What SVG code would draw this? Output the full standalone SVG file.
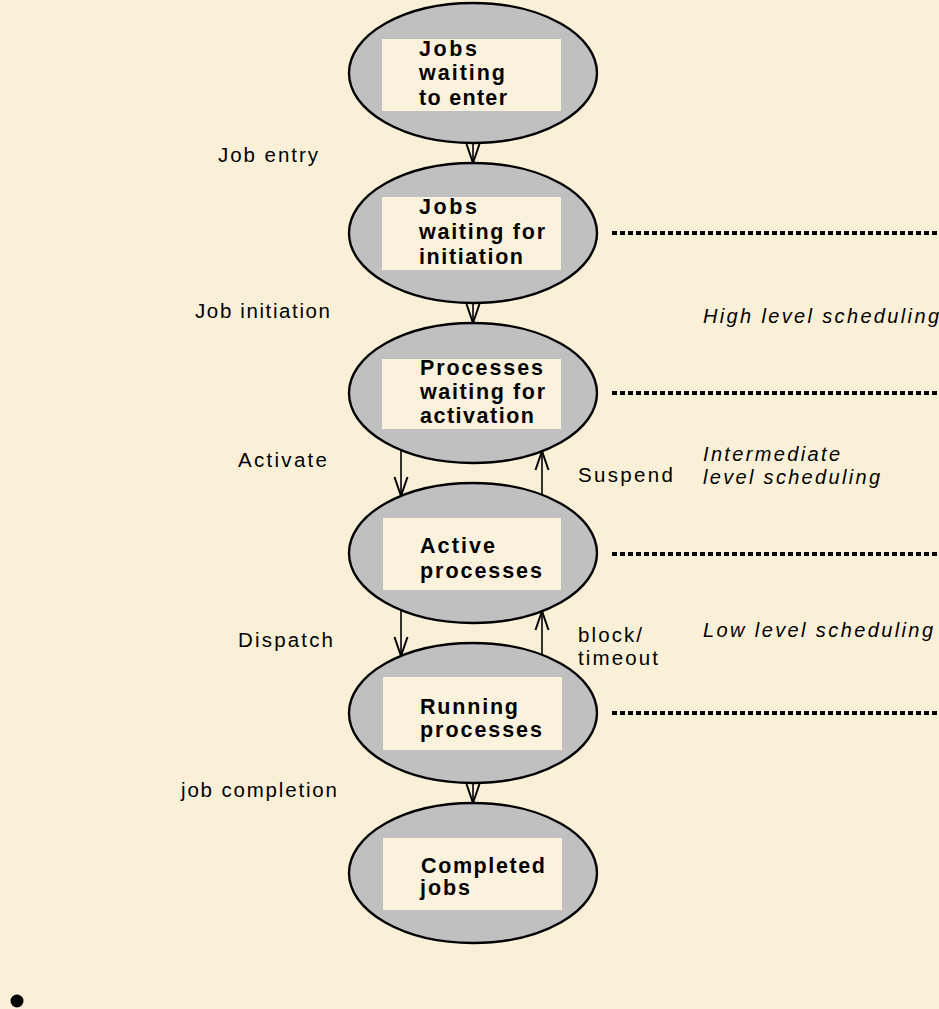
<svg xmlns="http://www.w3.org/2000/svg" width="939" height="1009" viewBox="0 0 939 1009">
<defs>
<style>
.bg{fill:#FAF0D8}
.ell{fill:#C0C0C0;stroke:#000;stroke-width:2.4}
.box{fill:#FBF2DE;stroke:none}
.nt{font-family:"Liberation Sans",Arial,sans-serif;font-weight:bold;font-size:21.5px;fill:#000}
.lb{font-family:"Liberation Sans",Arial,sans-serif;font-size:20.5px;fill:#000}
.it{font-family:"Liberation Sans",Arial,sans-serif;font-style:italic;font-size:20px;fill:#000}
.arr{stroke:#000;stroke-width:1.6;fill:none;marker-end:url(#v)}
.dot{stroke:#000;stroke-width:4;stroke-dasharray:5 3;fill:none}
</style>
<marker id="v" markerUnits="userSpaceOnUse" markerWidth="40" markerHeight="40" refX="0" refY="0" orient="auto" overflow="visible">
<path d="M-19,-6.5 L0,0 L-19,6.5" fill="none" stroke="#000" stroke-width="2"/>
</marker>
</defs>
<rect class="bg" x="0" y="0" width="939" height="1009"/>

<g id="connectors">
<line class="arr" x1="473" y1="143" x2="473" y2="163"/>
<line class="arr" x1="473" y1="303" x2="473" y2="323"/>
<line class="arr" x1="401" y1="450" x2="401" y2="496"/>
<line class="arr" x1="542" y1="495" x2="542" y2="451"/>
<line class="arr" x1="401" y1="610" x2="401" y2="656"/>
<line class="arr" x1="542" y1="655" x2="542" y2="611"/>
<line class="arr" x1="473" y1="783" x2="473" y2="803"/>
</g>

<g id="n1">
<ellipse class="ell" cx="473" cy="73" rx="124" ry="70"/>
<rect class="box" x="382" y="39" width="179" height="72"/>
<text class="nt" x="419" y="56" textLength="58" lengthAdjust="spacing">Jobs</text>
<text class="nt" x="419" y="80" textLength="86" lengthAdjust="spacing">waiting</text>
<text class="nt" x="419" y="105" textLength="88" lengthAdjust="spacing">to enter</text>
</g>
<g id="n2">
<ellipse class="ell" cx="473" cy="233" rx="124" ry="70"/>
<rect class="box" x="382" y="197" width="179" height="73"/>
<text class="nt" x="419" y="214" textLength="58" lengthAdjust="spacing">Jobs</text>
<text class="nt" x="419" y="239" textLength="126" lengthAdjust="spacing">waiting for</text>
<text class="nt" x="419" y="264" textLength="104" lengthAdjust="spacing">initiation</text>
</g>
<g id="n3">
<ellipse class="ell" cx="473" cy="393" rx="124" ry="70"/>
<rect class="box" x="382" y="359" width="179" height="70"/>
<text class="nt" x="420" y="375" textLength="123" lengthAdjust="spacing">Processes</text>
<text class="nt" x="420" y="399" textLength="125" lengthAdjust="spacing">waiting for</text>
<text class="nt" x="420" y="423" textLength="114" lengthAdjust="spacing">activation</text>
</g>
<g id="n4">
<ellipse class="ell" cx="473" cy="553" rx="124" ry="70"/>
<rect class="box" x="383" y="518" width="178" height="72"/>
<text class="nt" x="420" y="553" textLength="75" lengthAdjust="spacing">Active</text>
<text class="nt" x="420" y="578" textLength="122" lengthAdjust="spacing">processes</text>
</g>
<g id="n5">
<ellipse class="ell" cx="473" cy="713" rx="124" ry="70"/>
<rect class="box" x="383" y="677" width="179" height="73"/>
<text class="nt" x="420" y="714" textLength="98" lengthAdjust="spacing">Running</text>
<text class="nt" x="420" y="737" textLength="122" lengthAdjust="spacing">processes</text>
</g>
<g id="n6">
<ellipse class="ell" cx="473" cy="873" rx="124" ry="70"/>
<rect class="box" x="383" y="838" width="179" height="72"/>
<text class="nt" x="421" y="873" textLength="124" lengthAdjust="spacing">Completed</text>
<text class="nt" x="420" y="895" textLength="50" lengthAdjust="spacing">jobs</text>
</g>

<g id="levels">
<line class="dot" x1="612" y1="233" x2="939" y2="233"/>
<line class="dot" x1="612" y1="393" x2="939" y2="393"/>
<line class="dot" x1="612" y1="554" x2="939" y2="554"/>
<line class="dot" x1="612" y1="713" x2="939" y2="713"/>
</g>

<g id="labels">
<text class="lb" x="218" y="162" textLength="100" lengthAdjust="spacing">Job entry</text>
<text class="lb" x="195" y="318" textLength="135" lengthAdjust="spacing">Job initiation</text>
<text class="lb" x="238" y="467" textLength="89" lengthAdjust="spacing">Activate</text>
<text class="lb" x="238" y="647" textLength="95" lengthAdjust="spacing">Dispatch</text>
<text class="lb" x="181" y="797" textLength="156" lengthAdjust="spacing">job completion</text>
<text class="lb" x="578" y="482" textLength="95" lengthAdjust="spacing">Suspend</text>
<text class="lb" x="578" y="642" textLength="64" lengthAdjust="spacing">block/</text>
<text class="lb" x="578" y="665" textLength="80" lengthAdjust="spacing">timeout</text>
<text class="it" x="703" y="323" textLength="236" lengthAdjust="spacing">High level scheduling</text>
<text class="it" x="703" y="461" textLength="137" lengthAdjust="spacing">Intermediate</text>
<text class="it" x="703" y="484" textLength="177" lengthAdjust="spacing">level scheduling</text>
<text class="it" x="703" y="637" textLength="230" lengthAdjust="spacing">Low level scheduling</text>
</g>

<circle cx="17" cy="1001" r="6.5" fill="#000"/>
</svg>
